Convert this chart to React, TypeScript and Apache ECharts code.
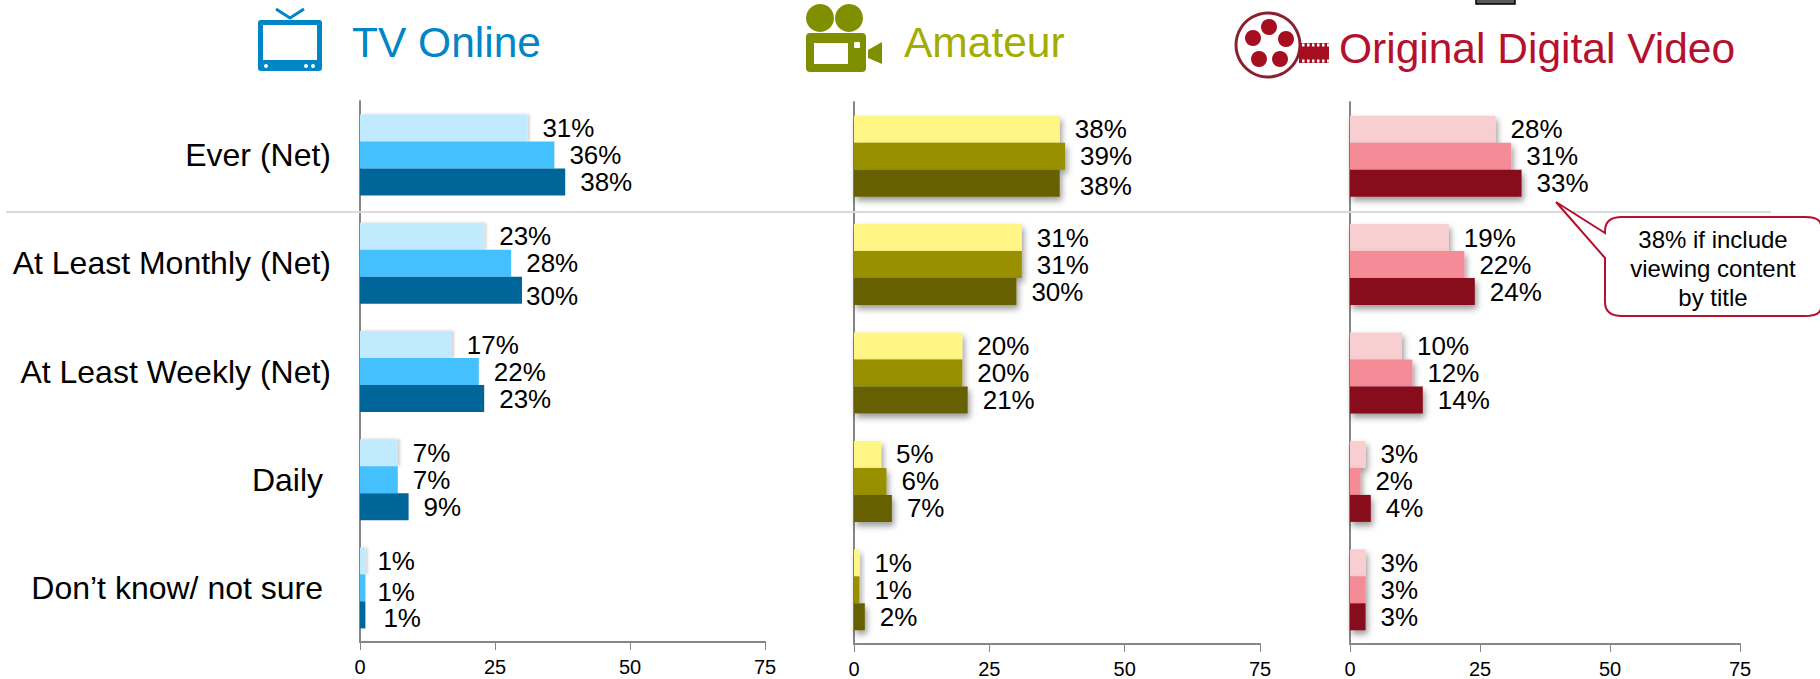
import React, { useEffect, useRef } from "react";
import * as echarts from "echarts";

const categories = ["Ever (Net)", "At Least Monthly (Net)", "At Least Weekly (Net)", "Daily", "Don’t know/ not sure"];
const ticks = [0, 25, 50, 75];

const tvLight = [31, 23, 17, 7, 1];
const tvMid = [36, 28, 22, 7, 1];
const tvDark = [38, 30, 23, 9, 1];

const amLight = [38, 31, 20, 5, 1];
const amMid = [39, 31, 20, 6, 1];
const amDark = [38, 30, 21, 7, 2];

const odLight = [28, 19, 10, 3, 3];
const odMid = [31, 22, 12, 2, 3];
const odDark = [33, 24, 14, 4, 3];

const FONT = "Liberation Sans";

const softShadow = { shadowColor: "rgba(0,0,0,0.4)", shadowBlur: 6, shadowOffsetX: 2, shadowOffsetY: 4 };
const edgeShadow = { shadowColor: "rgba(0,0,0,0.2)", shadowBlur: 3, shadowOffsetX: 2, shadowOffsetY: 0 };

const panels = [
  { left: 360, width: 405, top: 101, height: 541, colors: ["#c2eafe", "#45c0ff", "#006699"], values: [tvLight, tvMid, tvDark],
    styles: [edgeShadow, {}, {}],
    nudges: { "2-1": [-11, 6], "1-4": [-3, 4], "0-4": [-3, 0], "2-4": [3, 3] } as Record<string, number[]> },
  { left: 854, width: 406, top: 102, height: 542, colors: ["#fff685", "#999000", "#666000"], values: [amLight, amMid, amDark],
    styles: [softShadow, softShadow, softShadow],
    nudges: { "2-0": [5, 3] } as Record<string, number[]> },
  { left: 1350, width: 390, top: 102, height: 542, colors: ["#f8cfd0", "#f68b98", "#880c1e"], values: [odLight, odMid, odDark],
    styles: [softShadow, softShadow, softShadow],
    nudges: {} as Record<string, number[]> },
];

const calloutPath =
  "M1556 202 L1605 233 L1605 231 Q1605 217 1622 217 L1805 217 Q1820 217 1821 225 L1821 308 Q1820 316 1805 316 L1622 316 Q1605 316 1605 302 L1605 258 Z";

echarts.graphic.registerShape("calloutShape", echarts.graphic.extendPath(calloutPath as any, {}) as any);

const RED = "#b5112e";
const perforations = [1302, 1307, 1312, 1317, 1322, 1327];

export default function App() {
  const ref = useRef<HTMLDivElement>(null);
  useEffect(() => {
    document.body.style.margin = "0";
    const chart = echarts.init(ref.current!, undefined, { renderer: "svg" });
    const axisLine = { show: true, lineStyle: { color: "#868686", width: 2 } };
    chart.setOption({
      animation: false,
      backgroundColor: "#fff",
      textStyle: { fontFamily: FONT },
      grid: panels.map((p) => ({ left: p.left, width: p.width, top: p.top, height: p.height, containLabel: false })),
      xAxis: panels.map((_, i) => ({
        type: "value", gridIndex: i, min: 0, max: 75, interval: 25,
        splitLine: { show: false }, axisLine,
        axisTick: { show: true, length: 8, lineStyle: { color: "#868686", width: 1 } },
        axisLabel: { color: "#000", fontFamily: FONT, fontSize: 20, margin: 15, formatter: (v: number) => (ticks.includes(v) ? String(v) : "") },
      })),
      yAxis: panels.map((_, i) => ({
        type: "category", gridIndex: i, inverse: true,
        data: categories.map((c, k) => ({
          value: c,
          textStyle: k >= 3 ? { padding: [0, 8, 0, 0] } : {},
        })),
        axisLine, axisTick: { show: false },
        axisLabel: { show: i === 0, color: "#000", fontFamily: FONT, fontSize: 32, margin: 29 },
      })),
      series: panels.flatMap((p, i) =>
        p.values.map((vals, s) => ({
          type: "bar", xAxisIndex: i, yAxisIndex: i, barWidth: 27, barGap: "0%", z: 2 + s,
          itemStyle: { color: p.colors[s], ...p.styles[s] },
          label: { show: true, position: "right", distance: 15, color: "#000", fontFamily: FONT, fontSize: 26, formatter: "{c}%" },
          data: vals.map((v, k) => {
            const n = p.nudges[`${s}-${k}`];
            return n ? { value: v, label: { offset: n } } : v;
          }),
        }))
      ),
      graphic: [
        { type: "line", z: 10, shape: { x1: 6, y1: 212, x2: 1771, y2: 212 }, style: { stroke: "#d9d9d9", lineWidth: 2 } },
        // TV icon
        { type: "rect", shape: { x: 258, y: 20, width: 64, height: 51, r: 3 }, style: { fill: "#0085c7" } },
        { type: "rect", shape: { x: 263, y: 25, width: 54, height: 35 }, style: { fill: "#fff" } },
        { type: "circle", shape: { cx: 266, cy: 66, r: 2 }, style: { fill: "#fff" } },
        { type: "circle", shape: { cx: 306, cy: 66, r: 2 }, style: { fill: "#fff" } },
        { type: "circle", shape: { cx: 313, cy: 66, r: 2 }, style: { fill: "#fff" } },
        { type: "polyline", shape: { points: [[276, 9], [290, 18], [304, 9]] }, style: { stroke: "#0085c7", lineWidth: 3, fill: "none" } },
        { type: "text", x: 352, y: 42, style: { text: "TV Online", font: `42.5px ${FONT}`, fill: "#0085c7", verticalAlign: "middle" } },
        // Camera icon
        { type: "circle", shape: { cx: 820, cy: 18, r: 14 }, style: { fill: "#7f8f00" } },
        { type: "circle", shape: { cx: 849, cy: 18, r: 14 }, style: { fill: "#7f8f00" } },
        { type: "rect", shape: { x: 806, y: 33, width: 60, height: 39, r: 4 }, style: { fill: "#7f8f00" } },
        { type: "rect", shape: { x: 814, y: 43, width: 34, height: 21 }, style: { fill: "#fff" } },
        { type: "rect", shape: { x: 854, y: 42, width: 6, height: 6, r: 1 }, style: { fill: "#fff" } },
        { type: "polygon", shape: { points: [[868, 50], [882, 42], [882, 64], [868, 58]] }, style: { fill: "#7f8f00" } },
        { type: "text", x: 904, y: 42, style: { text: "Amateur", font: `42.5px ${FONT}`, fill: "#a2ad00", verticalAlign: "middle" } },
        // Film reel icon
        { type: "circle", shape: { cx: 1268, cy: 45, r: 32 }, style: { fill: "#fff", stroke: "#8a2030", lineWidth: 3 } },
        { type: "circle", shape: { cx: 1269, cy: 27, r: 8 }, style: { fill: "#a50f20" } },
        { type: "circle", shape: { cx: 1286, cy: 39, r: 8 }, style: { fill: "#a50f20" } },
        { type: "circle", shape: { cx: 1280, cy: 59, r: 8 }, style: { fill: "#a50f20" } },
        { type: "circle", shape: { cx: 1259, cy: 59, r: 8 }, style: { fill: "#a50f20" } },
        { type: "circle", shape: { cx: 1253, cy: 38, r: 8 }, style: { fill: "#a50f20" } },
        { type: "rect", shape: { x: 1299, y: 43, width: 30, height: 20 }, style: { fill: "#a50f20" } },
        ...perforations.flatMap((x) => [43.5, 59.5].map((y) => ({ type: "rect", shape: { x, y, width: 2.5, height: 3 }, style: { fill: "#fff" } }))),
        { type: "text", x: 1339, y: 48, style: { text: "Original Digital Video", font: `42.5px ${FONT}`, fill: RED, verticalAlign: "middle" } },
        // Legend scrap at top edge
        { type: "rect", shape: { x: 1476, y: -4, width: 39, height: 8 }, style: { fill: "#595959", stroke: "#000", lineWidth: 1.5 } },
        // Callout
        { type: "calloutShape", z: 20, style: { fill: "#fff", stroke: RED, lineWidth: 2 } },
        { type: "text", z: 21, x: 1713, y: 239, style: { text: "38% if include", font: `24px ${FONT}`, fill: "#000", align: "center", verticalAlign: "middle" } },
        { type: "text", z: 21, x: 1713, y: 268, style: { text: "viewing content", font: `24px ${FONT}`, fill: "#000", align: "center", verticalAlign: "middle" } },
        { type: "text", z: 21, x: 1713, y: 297, style: { text: "by title", font: `24px ${FONT}`, fill: "#000", align: "center", verticalAlign: "middle" } },
      ],
    });
    return () => chart.dispose();
  }, []);
  return <div ref={ref} style={{ position: "fixed", left: 0, top: 0, width: 1820, height: 679 }} />;
}
